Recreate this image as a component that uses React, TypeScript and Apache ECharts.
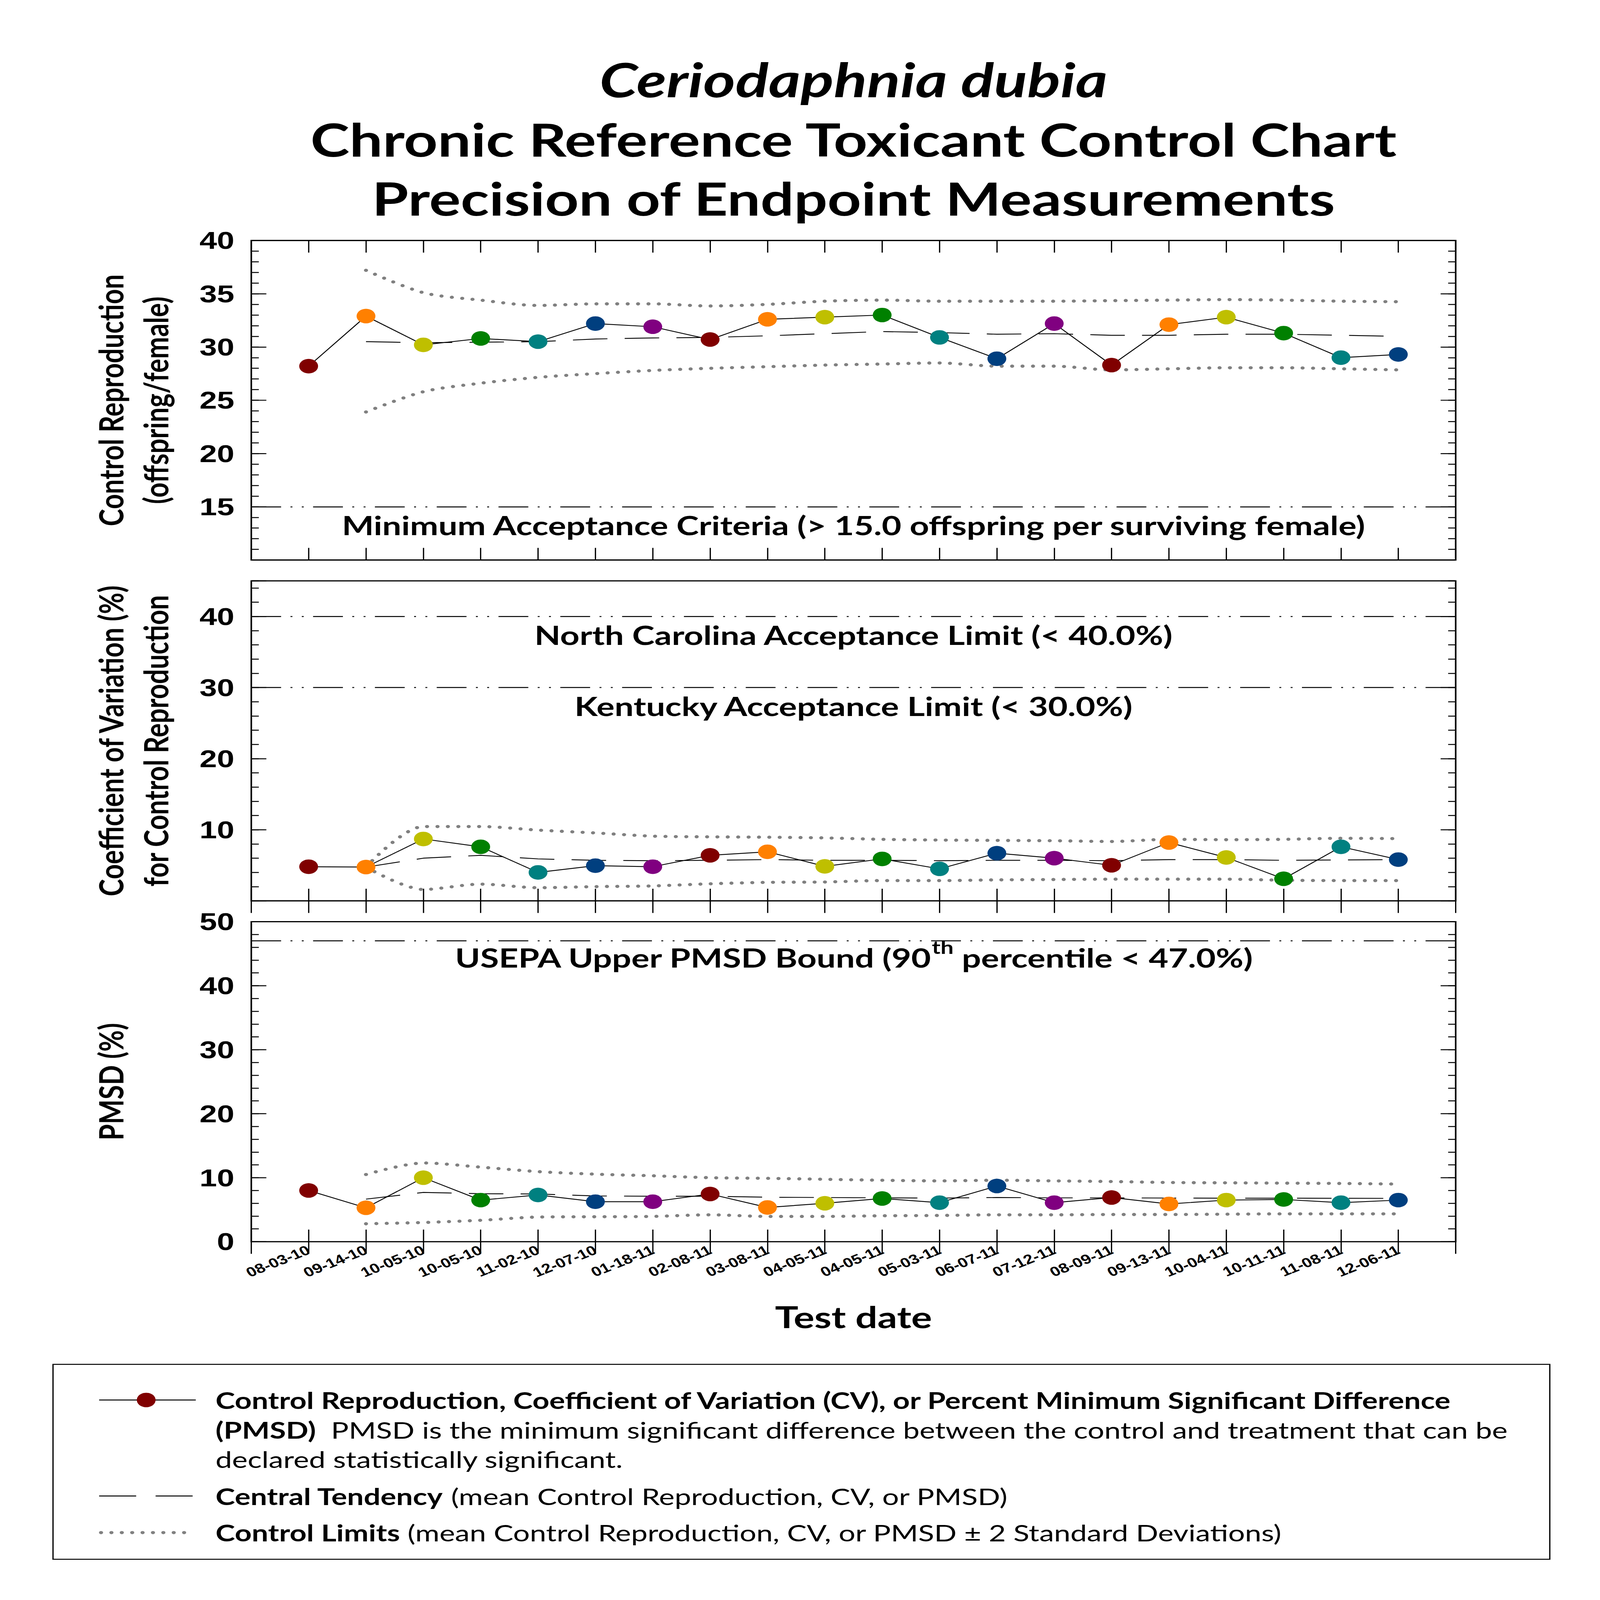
import React, { useEffect, useRef, useState } from "react";
import * as echarts from "echarts";

// ---------------- data ----------------
const testDates = [
  "08-03-10", "09-14-10", "10-05-10", "10-05-10", "11-02-10", "12-07-10", "01-18-11",
  "02-08-11", "03-08-11", "04-05-11", "04-05-11", "05-03-11", "06-07-11", "07-12-11",
  "08-09-11", "09-13-11", "10-04-11", "10-11-11", "11-08-11", "12-06-11",
];

const pointColors = ["#800000", "#FF8000", "#BFBF00", "#008000", "#008080", "#003F7F", "#800080"];

// Panel 1: control reproduction (offspring/female)
const reproduction = [28.2, 32.9, 30.2, 30.8, 30.5, 32.2, 31.9, 30.7, 32.6, 32.8, 33.0, 30.9, 28.9, 32.2, 28.3, 32.1, 32.8, 31.3, 29.0, 29.3];
const reproductionMean = [null, 30.5, 30.4, 30.45, 30.5, 30.75, 30.85, 30.9, 31.05, 31.25, 31.45, 31.35, 31.2, 31.25, 31.1, 31.1, 31.2, 31.2, 31.1, 31.0];
const reproductionUpper = [null, 37.2, 35.1, 34.4, 33.9, 34.05, 34.05, 33.85, 34.0, 34.3, 34.4, 34.3, 34.3, 34.3, 34.35, 34.4, 34.45, 34.4, 34.3, 34.25];
const reproductionLower = [null, 23.9, 25.8, 26.6, 27.15, 27.5, 27.8, 28.0, 28.15, 28.3, 28.4, 28.5, 28.2, 28.2, 27.85, 27.95, 28.05, 28.05, 27.95, 27.85];

// Panel 2: coefficient of variation (%)
const cv = [4.8, 4.75, 8.7, 7.6, 4.0, 4.95, 4.8, 6.4, 6.9, 4.85, 5.9, 4.5, 6.7, 6.0, 5.0, 8.2, 6.1, 3.1, 7.6, 5.8];
const cvMean = [null, 4.75, 6.0, 6.4, 5.9, 5.7, 5.65, 5.7, 5.8, 5.7, 5.7, 5.65, 5.7, 5.7, 5.65, 5.8, 5.8, 5.7, 5.75, 5.8];
const cvUpper = [null, 4.75, 10.45, 10.45, 9.95, 9.55, 9.1, 9.0, 8.95, 8.85, 8.65, 8.55, 8.5, 8.45, 8.35, 8.65, 8.6, 8.65, 8.8, 8.75];
const cvLower = [null, 4.75, 1.6, 2.35, 1.85, 2.0, 2.1, 2.4, 2.6, 2.65, 2.85, 2.85, 2.95, 3.0, 3.05, 3.05, 3.05, 2.9, 2.85, 2.85];

// Panel 3: PMSD (%)
const pmsd = [8.0, 5.3, 10.0, 6.5, 7.3, 6.25, 6.25, 7.45, 5.35, 6.0, 6.75, 6.1, 8.7, 6.1, 6.9, 5.9, 6.5, 6.6, 6.1, 6.5];
const pmsdMean = [null, 6.65, 7.7, 7.5, 7.45, 7.15, 7.1, 7.1, 6.95, 6.9, 6.85, 6.82, 6.9, 6.85, 6.85, 6.82, 6.8, 6.8, 6.78, 6.77];
const pmsdUpper = [null, 10.5, 12.3, 11.65, 10.95, 10.55, 10.3, 10.0, 9.9, 9.75, 9.6, 9.5, 9.6, 9.5, 9.4, 9.25, 9.2, 9.15, 9.1, 9.0];
const pmsdLower = [null, 2.8, 3.0, 3.35, 3.85, 3.9, 3.95, 4.2, 3.95, 3.95, 4.05, 4.1, 4.2, 4.2, 4.25, 4.25, 4.3, 4.35, 4.35, 4.35];

// reference limits
const minAcceptance = [15];
const stateLimits = [40, 30];
const pmsdBound = [47];

// ---------------- layout / style ----------------
const W = 5100;
const H = 6600;
const CAL = "Lato, 'Open Sans', sans-serif";
const TICK = "'Liberation Sans', Arial, sans-serif";
const GRID_LEFT = 801;
const GRID_W = 3839;

const refLineStyle = { color: "#000", width: 4, type: [95, 30, 6, 30, 6, 30] };
const dotted = { color: "#808080", width: 13, type: [0.1, 33], cap: "round" };
const dashed = { color: "#000", width: 3.5, type: [110, 55] };

const panels = [
  { top: 992, height: 1318, min: 10, max: 40, major: 5, minor: 1, hide: [10], values: reproduction, mean: reproductionMean, upper: reproductionUpper, lower: reproductionLower, refs: minAcceptance, xLabels: false },
  { top: 2396, height: 1320, min: 0, max: 45, major: 10, minor: 2, hide: [0], values: cv, mean: cvMean, upper: cvUpper, lower: cvLower, refs: stateLimits, xLabels: false },
  { top: 3802, height: 1320, min: 0, max: 50, major: 10, minor: 2, hide: [] as number[], values: pmsd, mean: pmsdMean, upper: pmsdUpper, lower: pmsdLower, refs: pmsdBound, xLabels: true },
];

const categories = ["", ...testDates, ""];
const pad = (arr: (number | null)[]) => [null, ...arr, null];

function buildOption() {
  const grid: any[] = [];
  const xAxis: any[] = [];
  const yAxis: any[] = [];
  const series: any[] = [];

  panels.forEach((p, i) => {
    grid.push({ left: GRID_LEFT, width: GRID_W, top: p.top, height: p.height, show: true, borderColor: "#000", borderWidth: 5, backgroundColor: "transparent" });
    const xBase = {
      type: "category", gridIndex: i, data: categories, boundaryGap: false,
      axisLine: { show: false }, splitLine: { show: false },
      axisTick: { show: true, inside: true, length: 50, interval: 0, lineStyle: { width: 4, color: "#000" } },
    };
    xAxis.push({
      ...xBase, position: "bottom",
      axisLabel: { show: p.xLabels, interval: 0, rotate: 27, margin: 30, fontFamily: TICK, fontWeight: "bold", fontSize: 55, color: "#000" },
    });
    xAxis.push({ ...xBase, position: "top", axisLabel: { show: false } });

    const yBase = { type: "value", gridIndex: i, min: p.min, max: p.max, axisLine: { show: false }, splitLine: { show: false } };
    const majorTick = { show: true, inside: true, length: 48, lineStyle: { width: 4, color: "#000" } };
    const minorTick = { show: true, inside: true, length: 24, lineStyle: { width: 4, color: "#000" } };
    yAxis.push({
      ...yBase, position: "left", interval: p.major, axisTick: majorTick,
      axisLabel: {
        margin: 54, fontFamily: TICK, fontWeight: "bold", fontSize: 100, color: "#000",
        formatter: (v: number) => (v % p.major === 0 && !p.hide.includes(v) ? String(v) : ""),
      },
    });
    yAxis.push({ ...yBase, position: "left", interval: p.minor, axisTick: minorTick, axisLabel: { show: false } });
    yAxis.push({ ...yBase, position: "right", interval: p.major, axisTick: majorTick, axisLabel: { show: false } });
    yAxis.push({ ...yBase, position: "right", interval: p.minor, axisTick: minorTick, axisLabel: { show: false } });

    const xi = i * 2;
    const yi = i * 4;
    series.push({
      type: "line", xAxisIndex: xi, yAxisIndex: yi, data: pad(p.upper), symbol: "none", smooth: 0.3,
      lineStyle: dotted, z: 2, silent: true,
    });
    series.push({
      type: "line", xAxisIndex: xi, yAxisIndex: yi, data: pad(p.lower), symbol: "none", smooth: 0.3,
      lineStyle: dotted, z: 2, silent: true,
    });
    series.push({
      type: "line", xAxisIndex: xi, yAxisIndex: yi, data: pad(p.mean), symbol: "none",
      lineStyle: dashed, z: 3, silent: true,
      markLine: {
        silent: true, symbol: "none", label: { show: false }, lineStyle: refLineStyle,
        data: p.refs.map((r) => ({ yAxis: r })),
      },
    });
    series.push({
      type: "line", xAxisIndex: xi, yAxisIndex: yi, symbol: "circle", symbolSize: 60,
      lineStyle: { color: "#000", width: 3.5 }, z: 5, silent: true,
      data: [null, ...p.values.map((v, k) => ({ value: v, itemStyle: { color: pointColors[k % pointColors.length] } })), null],
    });
  });

  const cx = GRID_LEFT + GRID_W / 2;
  const txt = (x: number, y: number, text: string, extra: any = {}, rotation = 0) => ({
    type: "text", x, y, rotation, silent: true,
    style: { text, fill: "#000", fontFamily: CAL, fontWeight: "bold", fontSize: 108, textAlign: "center", textVerticalAlign: "middle", ...extra },
  });

  const legendX = 687;
  const legendRich = {
    b: { fontFamily: CAL, fontWeight: "bold", fontSize: 94, fill: "#000" },
    n: { fontFamily: CAL, fontWeight: "normal", fontSize: 94, fill: "#000" },
  };
  const legendTxt = (y: number, text: string) => ({
    type: "text", x: legendX, y, silent: true,
    style: { text, rich: legendRich, textAlign: "left", textVerticalAlign: "middle", fill: "#000" },
  });

  const graphic: any[] = [
    txt(cx, 326, "Ceriodaphnia dubia", { fontSize: 196, fontStyle: "italic" }),
    txt(cx, 573, "Chronic Reference Toxicant Control Chart", { fontSize: 188 }),
    txt(cx, 817, "Precision of Endpoint Measurements", { fontSize: 188 }),
    txt(352, 1651, "Control Reproduction", { fontSize: 108 }, Math.PI / 2),
    txt(495, 1651, "(offspring/female)", { fontSize: 108 }, Math.PI / 2),
    txt(352, 3056, "Coefficient of Variation (%)", { fontSize: 108 }, Math.PI / 2),
    txt(495, 3056, "for Control Reproduction", { fontSize: 108 }, Math.PI / 2),
    txt(352, 4462, "PMSD (%)", { fontSize: 108 }, Math.PI / 2),
    txt(cx, 2166, "Minimum Acceptance Criteria (> 15.0 offspring per surviving female)"),
    txt(cx, 2618, "North Carolina Acceptance Limit (< 40.0%)"),
    txt(cx, 2912, "Kentucky Acceptance Limit (< 30.0%)"),
    {
      type: "text", x: cx, y: 3950, silent: true,
      style: {
        text: "{a|USEPA Upper PMSD Bound (90}{s|th}{a| percentile < 47.0%)}",
        textAlign: "center", textVerticalAlign: "middle", fill: "#000",
        rich: {
          a: { fontFamily: CAL, fontWeight: "bold", fontSize: 108, lineHeight: 160, fill: "#000" },
          s: { fontFamily: CAL, fontWeight: "bold", fontSize: 74, lineHeight: 84, verticalAlign: "top", fill: "#000" },
        },
      },
    },
    txt(cx, 5430, "Test date", { fontSize: 124 }),
    // legend box
    { type: "rect", silent: true, shape: { x: 169, y: 5628, width: 4771, height: 804 }, style: { fill: "none", stroke: "#000", lineWidth: 4 } },
    { type: "line", silent: true, shape: { x1: 316, y1: 5775, x2: 624, y2: 5775 }, style: { stroke: "#000", lineWidth: 4 } },
    { type: "circle", silent: true, shape: { cx: 466, cy: 5775, r: 30 }, style: { fill: "#800000" } },
    { type: "line", silent: true, shape: { x1: 316, y1: 6171, x2: 624, y2: 6171 }, style: { stroke: "#000", lineWidth: 4, lineDash: [118, 62] } },
    { type: "line", silent: true, shape: { x1: 322, y1: 6322, x2: 604, y2: 6322 }, style: { stroke: "#808080", lineWidth: 13, lineDash: [0.1, 33], lineCap: "round" } },
    legendTxt(5775, "{b|Control Reproduction, Coefficient of Variation (CV), or Percent Minimum Significant Difference}"),
    legendTxt(5897, "{b|(PMSD)}{n|  PMSD is the minimum significant difference between the control and treatment that can be}"),
    legendTxt(6019, "{n|declared statistically significant.}"),
    legendTxt(6171, "{b|Central Tendency}{n| (mean Control Reproduction, CV, or PMSD)}"),
    legendTxt(6322, "{b|Control Limits}{n| (mean Control Reproduction, CV, or PMSD ± 2 Standard Deviations)}"),
  ];

  return {
    animation: false,
    backgroundColor: "#fff",
    textStyle: { fontFamily: CAL },
    grid, xAxis, yAxis, series, graphic,
  };
}

// The browser window may be smaller than the intended 5100x6600 page;
// the chart is laid out at full size and scaled to fill the window.
function useViewport() {
  const [vp, setVp] = useState({ w: window.innerWidth || W, h: window.innerHeight || H });
  useEffect(() => {
    const onResize = () => setVp({ w: window.innerWidth || W, h: window.innerHeight || H });
    window.addEventListener("resize", onResize);
    return () => window.removeEventListener("resize", onResize);
  }, []);
  return vp;
}

export default function App() {
  const ref = useRef<HTMLDivElement>(null);
  const vp = useViewport();
  useEffect(() => {
    if (!ref.current) return;
    const chart = echarts.init(ref.current, null, { renderer: "svg", width: W, height: H });
    chart.setOption(buildOption() as any);
    return () => chart.dispose();
  }, []);
  const sx = Math.min(1, vp.w / W);
  const sy = Math.min(1, vp.h / H);
  return (
    <div style={{ position: "fixed", left: 0, top: 0, width: vp.w, height: vp.h, overflow: "hidden", background: "#fff" }}>
      <div
        ref={ref}
        style={{
          width: W, height: H, position: "absolute", left: 0, top: 0, background: "#fff",
          transform: `scale(${sx}, ${sy})`, transformOrigin: "0 0",
        }}
      />
    </div>
  );
}
